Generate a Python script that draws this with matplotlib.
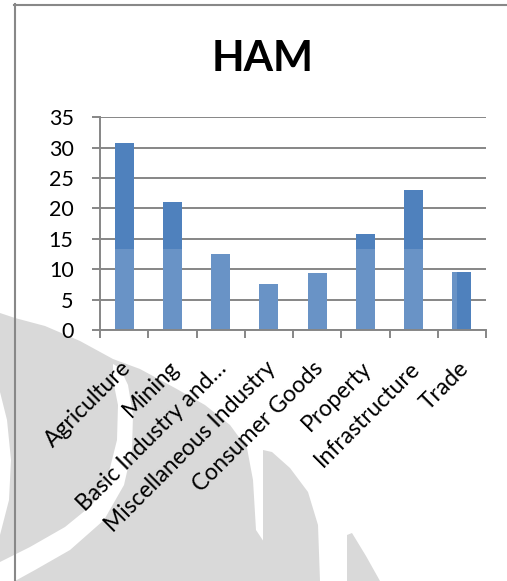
import numpy as np
import matplotlib
matplotlib.use("Agg")
import matplotlib.pyplot as plt
from matplotlib.patches import Polygon, Rectangle
from matplotlib.lines import Line2D
import matplotlib.transforms as mtransforms

# ── Data ─────────────────────────────────────────────────────────
categories = ["Agriculture", "Mining", "Basic Industry and\u2026",
              "Miscellaneous Industry", "Consumer Goods", "Property",
              "Infrastructure", "Trade"]
ham_values = [30.7, 21.0, 12.45, 7.6, 9.45, 15.85, 23.0, 9.5]
y_ticks = [0, 5, 10, 15, 20, 25, 30, 35]
title = "HAM"

# ── Style ────────────────────────────────────────────────────────
W, H = 507, 581
BAR_COLOR = "#4f81bd"
GRID_COLOR = "#868686"
WM_COLOR = "#d9d9d9"
plt.rcParams["font.family"] = ["Lato", "DejaVu Sans"]

fig = plt.figure(figsize=(W / 100, H / 100), dpi=100)
fig.patch.set_facecolor("white")


def px(x, y):
    """pixel (top-left origin) -> figure fraction"""
    return (x / W, 1 - y / H)


# ── Watermark (background decoration) ────────────────────────────
grey_shapes = [
    [(0, 313), (15, 318), (45, 326), (80, 341), (113, 359), (140, 369),
     (175, 388), (205, 405), (230, 425), (247, 448), (253, 480),
     (256, 530), (266, 545), (266, 581), (0, 581)],
    [(263, 450), (272, 452), (290, 468), (308, 492), (318, 525),
     (320, 581), (263, 581)],
    [(347, 535), (352, 533), (366, 556), (380, 581), (347, 581)],
]
white_shapes = [
    # curved white band through the left disc
    [(0, 562), (30, 547), (65, 527), (92, 505), (108, 476), (117, 440),
     (118, 405), (113, 380), (113, 364), (120, 368), (128, 385),
     (133, 415), (132, 450), (124, 485), (104, 520), (70, 550),
     (35, 570), (15, 581), (0, 581)],
    # left crescent
    [(0, 392), (7, 420), (11, 460), (9, 500), (0, 535)],
]
for pts in grey_shapes:
    fig.patches.append(Polygon([px(*p) for p in pts], closed=True,
                               transform=fig.transFigure, facecolor=WM_COLOR,
                               edgecolor="none", zorder=-2))
for pts in white_shapes:
    fig.patches.append(Polygon([px(*p) for p in pts], closed=True,
                               transform=fig.transFigure, facecolor="white",
                               edgecolor="none", zorder=-1))

# chart border (left and top)
fig.lines.append(Line2D([15 / W, 15 / W], [1 - 4 / H, 0], transform=fig.transFigure,
                        color="#888888", lw=1.5, zorder=3))
fig.lines.append(Line2D([14 / W, 1], [1 - 5 / H, 1 - 5 / H], transform=fig.transFigure,
                        color="#888888", lw=1.5, zorder=3))

# ── Plot ─────────────────────────────────────────────────────────
ax = fig.add_axes([100 / W, (H - 330) / H, 386 / W, (330 - 117.3) / H])
x = np.arange(len(categories))
bars = ax.bar(x, ham_values, width=0.39, color=BAR_COLOR, zorder=2)

# lighter lower band on the bars (scan artefact in the original)
for b in bars:
    r = Rectangle(px(0, 581), 457 / W, (581 - 249) / H, transform=fig.transFigure,
                  facecolor="white", alpha=0.15, edgecolor="none", zorder=2.5)
    ax.add_artist(r)
    r.set_clip_path(b)

ax.set_xlim(-0.5, len(categories) - 0.5)
ax.set_ylim(0, 35)
ax.set_yticks(y_ticks)
ax.yaxis.grid(True, color=GRID_COLOR, lw=1.4)
ax.set_axisbelow(True)

for s in ["top", "right"]:
    ax.spines[s].set_visible(False)
for s in ["left", "bottom"]:
    ax.spines[s].set_color(GRID_COLOR)
    ax.spines[s].set_linewidth(1.4)

ax.tick_params(axis="y", length=6, width=1.4, color=GRID_COLOR, pad=13,
               labelsize=15.5, labelcolor="black")
ax.set_xticks(x)
ax.set_xticks(np.arange(len(categories) + 1) - 0.5, minor=True)
ax.tick_params(axis="x", which="major", length=0, pad=25)
ax.tick_params(axis="x", which="minor", length=6, width=1.4, color=GRID_COLOR)
ax.set_xticklabels(categories, rotation=45, ha="right", va="center",
                   rotation_mode="anchor", fontsize=16.5)
offset = mtransforms.ScaledTranslation(3 / 100, 0, fig.dpi_scale_trans)
for lab in ax.get_xticklabels():
    lab.set_transform(lab.get_transform() + offset)

fig.text(263 / W, 1 - 71 / H, title, ha="center", va="baseline",
         fontsize=30.5, fontweight="bold")

fig.savefig("out.png", dpi=100)
